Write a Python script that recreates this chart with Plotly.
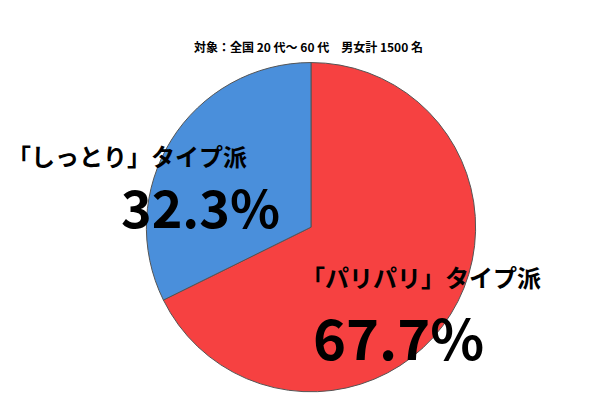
import plotly.graph_objects as go

labels = ["「パリパリ」タイプ派", "「しっとり」タイプ派"]
values = [67.7, 32.3]
colors = ["#F64141", "#4A8FDB"]
title = "対象：全国 20 代～ 60 代　男女計 1500 名"

fig = go.Figure()
fig.add_trace(go.Pie(
    labels=labels, values=values, sort=False, direction="clockwise", rotation=0,
    marker=dict(colors=colors, line=dict(color="#555555", width=1)),
    textinfo="none", hoverinfo="label+percent", showlegend=False,
    domain=dict(x=[0.23, 0.78], y=[0.05, 0.865]),
))

font = "Noto Sans CJK JP"
# (label x, label y, number x, number y, number size)
places = [(0.485, 0.335, 0.505, 0.19, 56), (-0.005, 0.635, 0.185, 0.51, 52)]
for lab, v, (lx, ly, nx, ny, s) in zip(labels, values, places):
    fig.add_annotation(x=lx, y=ly, xref="paper", yref="paper", xanchor="left", yanchor="middle",
                       text="<b>%s</b>" % lab, showarrow=False, font=dict(family=font, size=24, color="black"))
    fig.add_annotation(x=nx, y=ny, xref="paper", yref="paper", xanchor="left", yanchor="middle",
                       text="<b>%.1f%%</b>" % v, showarrow=False, font=dict(family=font, size=s, color="black"))

fig.add_annotation(x=0.5, y=0.93, xref="paper", yref="paper", text="<b>%s</b>" % title,
                   showarrow=False, font=dict(family=font, size=12, color="black"))

fig.update_layout(width=600, height=404, margin=dict(l=0, r=0, t=0, b=0),
                  paper_bgcolor="white", plot_bgcolor="white")
fig.write_html("out.html")
